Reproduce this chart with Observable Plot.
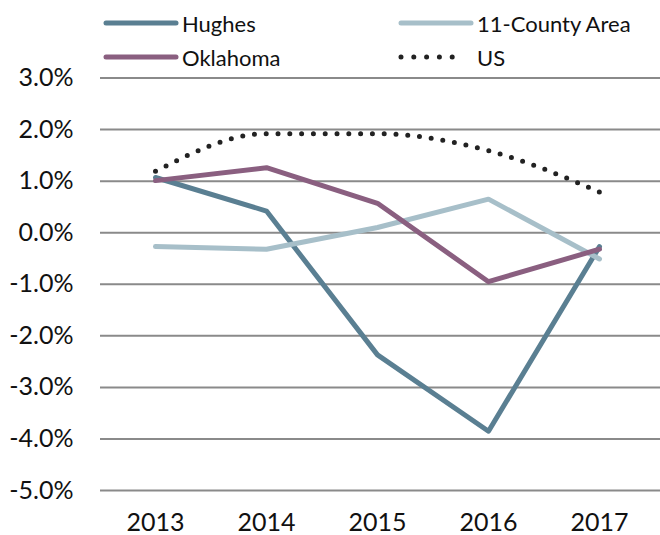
<!DOCTYPE html>
<html><head><meta charset="utf-8">
<script src="https://cdn.jsdelivr.net/npm/d3@7"></script>
<script src="https://cdn.jsdelivr.net/npm/@observablehq/plot@0.6"></script>
<style>
body{margin:0;background:#fff;font-family:Lato,"Open Sans",sans-serif;}
#wrap{position:relative;width:660px;height:535px;overflow:hidden;}
#legend{position:absolute;left:0;top:0;width:660px;height:70px;z-index:2;}
.item{position:absolute;height:34px;display:flex;align-items:center;font-size:22px;color:#111;white-space:nowrap;}
.item svg{margin-right:3px;}
#chart svg{display:block;}
</style></head><body>
<div id="wrap"><div id="legend"></div><div id="chart"></div></div>
<script>
const years = ["2013", "2014", "2015", "2016", "2017"];
const seriesNames = ["Hughes", "11-County Area", "Oklahoma", "US"];
const hughes = [1.07, 0.42, -2.37, -3.85, -0.27];
const countyArea = [-0.27, -0.32, 0.10, 0.65, -0.51];
const oklahoma = [1.01, 1.26, 0.57, -0.95, -0.32];
const us = [1.19, 1.92, 1.92, 1.59, 0.79];
const seriesColors = ["#5a7f92", "#a7bfc9", "#8a5f80", "#222222"];
const yTicks = [-5, -4, -3, -2, -1, 0, 1, 2, 3];

const seriesValues = [hughes, countyArea, oklahoma, us];
const rows = [];
seriesNames.forEach((s, i) => years.forEach((y, j) => rows.push({series: s, year: y, value: seriesValues[i][j]})));

// Legend (HTML)
const legendPos = [
  {left: 103, top: 6},
  {left: 398, top: 6},
  {left: 103, top: 40},
  {left: 398, top: 40}
];
const legend = document.getElementById("legend");
seriesNames.forEach((s, i) => {
  const div = document.createElement("div");
  div.className = "item";
  div.style.left = legendPos[i].left + "px";
  div.style.top = legendPos[i].top + "px";
  const dotted = s === "US";
  div.innerHTML = `<svg width="76" height="10"><line x1="3" y1="5" x2="${dotted ? 67 : 73}" y2="5" stroke="${seriesColors[i]}" stroke-width="5" stroke-linecap="round" ${dotted ? 'stroke-dasharray="0 12.8"' : ''}/></svg><span>${s}</span>`;
  legend.appendChild(div);
});

const chart = Plot.plot({
  width: 660,
  height: 535,
  marginTop: 77.5,
  marginBottom: 45,
  marginLeft: 100,
  marginRight: 0,
  style: {fontFamily: "Lato, 'Open Sans', sans-serif", fontSize: "25px", color: "#111", background: "#fff", overflow: "visible"},
  x: {type: "point", domain: years, range: [154, 600], padding: 0, label: null},
  y: {domain: [-5, 3], label: null},
  color: {domain: seriesNames, range: seriesColors},
  marks: [
    Plot.ruleY(yTicks, {stroke: "#8a8a8a", strokeWidth: 2}),
    Plot.axisY(yTicks, {tickSize: 0, tickPadding: 27, tickFormat: d => d.toFixed(1) + "%", label: null, fontSize: 25, fill: "#111"}),
    Plot.axisX(years, {tickSize: 0, tickPadding: 23, label: null, fontSize: 25, fill: "#111"}),
    Plot.lineY(rows.filter(d => d.series !== "US"), {
      x: "year", y: "value", z: "series", stroke: "series",
      strokeWidth: 5, strokeLinecap: "round", strokeLinejoin: "round"
    }),
    Plot.lineY(rows.filter(d => d.series === "US"), {
      x: "year", y: "value", stroke: "series", curve: "monotone-x",
      strokeWidth: 5, strokeLinecap: "round", strokeDasharray: "0 11.8"
    })
  ]
});
document.getElementById("chart").appendChild(chart);
</script>
</body></html>
